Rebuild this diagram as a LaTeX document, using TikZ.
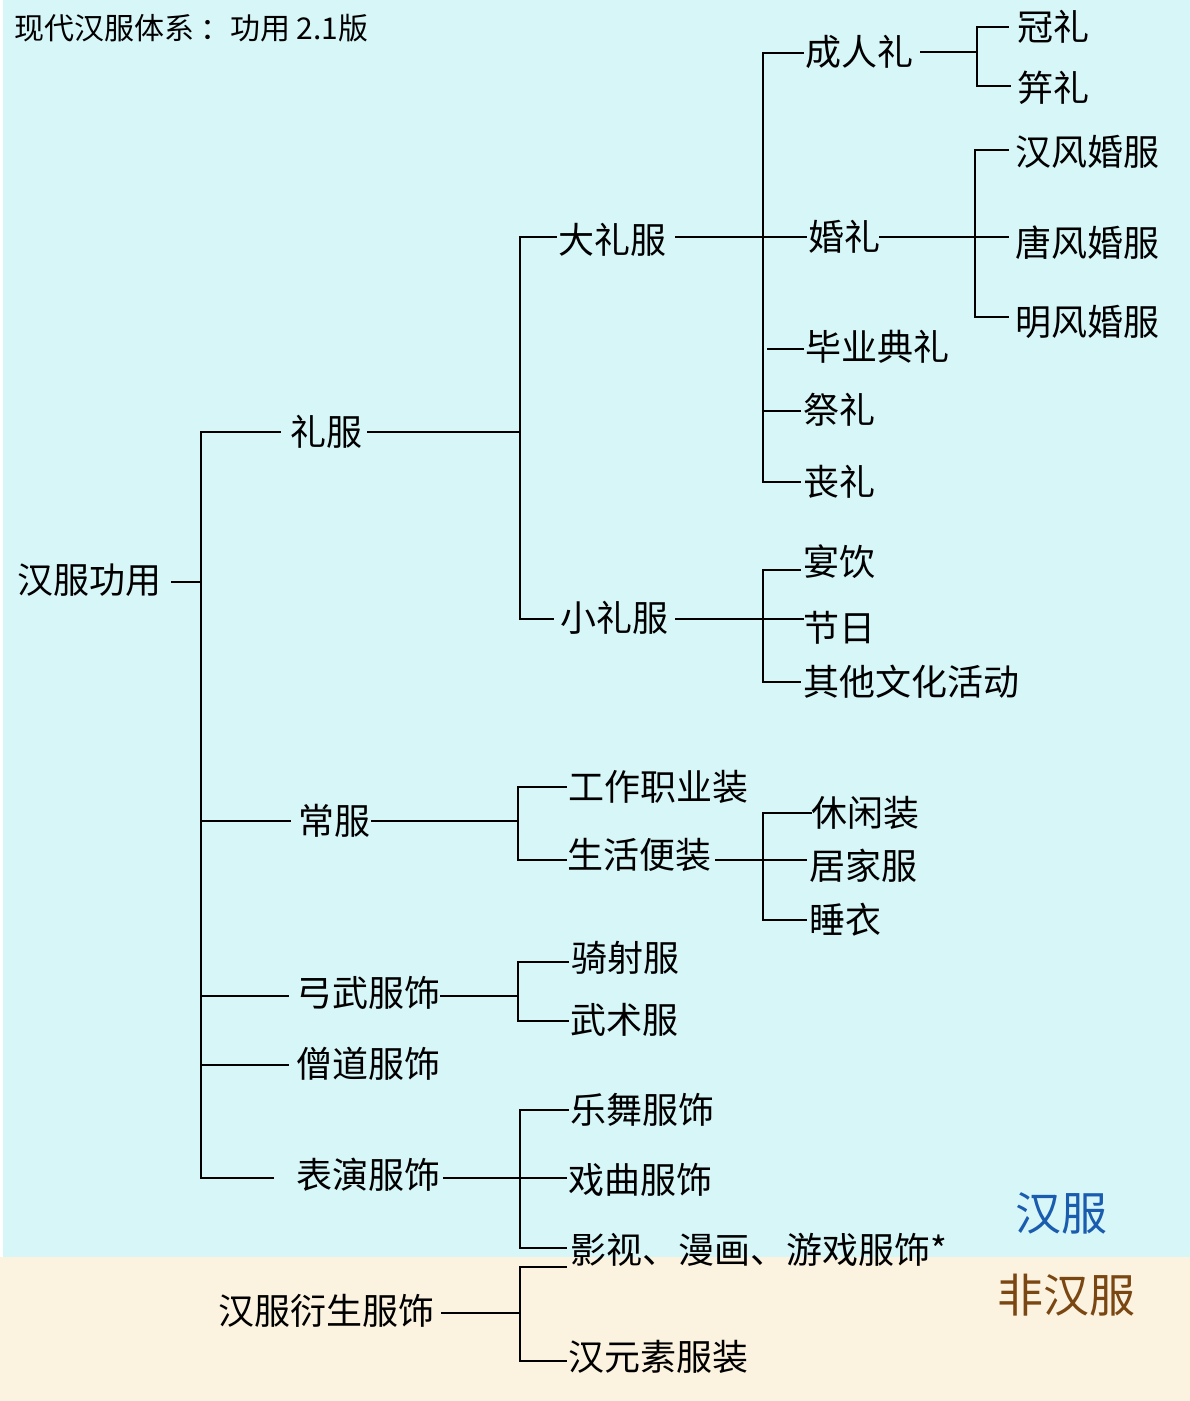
\documentclass[tikz,border=0pt]{standalone}
\usepackage{fontspec}
\setmainfont{Noto Sans CJK SC}
\definecolor{cyanbg}{HTML}{D7F6F8}
\definecolor{beigebg}{HTML}{FBF3E0}
\definecolor{hanblue}{HTML}{1A5CAE}
\definecolor{hanbrown}{HTML}{7A4712}
\tikzset{
  lbl/.style={anchor=west, inner sep=0pt, font=\fontsize{36}{40}\selectfont},
  ln/.style={line width=2pt, line cap=rect},
}
\begin{document}
\begin{tikzpicture}[x=1pt,y=-1pt]
\useasboundingbox (0,0) rectangle (1190,1401);
\fill[white] (0,0) rectangle (1190,1401);
\fill[cyanbg] (3,0) rectangle (1190,1257);
\fill[beigebg] (0,1257) rectangle (1190,1401);

% title
\node[anchor=west, inner sep=0pt, font=\fontsize{30}{34}\selectfont] (title) at (14,28) {现代汉服体系\hspace{6pt}：功用 2.1版};
\node[anchor=west, inner sep=0pt, font=\fontsize{46}{50}\selectfont, text=hanblue] (hanfu) at (1015,1213) {汉服};
\node[anchor=west, inner sep=0pt, font=\fontsize{46}{50}\selectfont, text=hanbrown] (feihanfu) at (997,1295) {非汉服};

% labels
\node[lbl] (root) at (17,580) {汉服功用};
\node[lbl] (lifu) at (290,432) {礼服};
\node[lbl] (dalifu) at (558,240) {大礼服};
\node[lbl] (chengren) at (805,52) {成人礼};
\node[lbl] (guan) at (1017,27) {冠礼};
\node[lbl] (ji) at (1017,88) {笄礼};
\node[lbl] (hunli) at (808,237) {婚礼};
\node[lbl] (hanfeng) at (1015,152) {汉风婚服};
\node[lbl] (tangfeng) at (1015,243) {唐风婚服};
\node[lbl] (mingfeng) at (1015,322) {明风婚服};
\node[lbl] (biye) at (805,347) {毕业典礼};
\node[lbl] (jili) at (803,410) {祭礼};
\node[lbl] (sangli) at (803,482) {丧礼};
\node[lbl] (xiaolifu) at (560,618) {小礼服};
\node[lbl] (yanyin) at (803,562) {宴饮};
\node[lbl] (jieri) at (803,628) {节日};
\node[lbl] (qita) at (803,682) {其他文化活动};
\node[lbl] (changfu) at (298,821) {常服};
\node[lbl] (gongzuo) at (568,787) {工作职业装};
\node[lbl] (shenghuo) at (567,855) {生活便装};
\node[lbl] (xiuxian) at (811,813) {休闲装};
\node[lbl] (jujia) at (809,866) {居家服};
\node[lbl] (shuiyi) at (809,920) {睡衣};
\node[lbl] (gongwu) at (296,993) {弓武服饰};
\node[lbl] (qishe) at (571,958) {骑射服};
\node[lbl] (wushu) at (570,1020) {武术服};
\node[lbl] (sengdao) at (296,1064) {僧道服饰};
\node[lbl] (biaoyan) at (296,1175) {表演服饰};
\node[lbl] (yuewu) at (570,1110) {乐舞服饰};
\node[lbl] (xiqu) at (568,1180) {戏曲服饰};
\node[lbl] (yingshi) at (570,1250) {影视、漫画、游戏服饰*};
\node[lbl] (yansheng) at (218,1311) {汉服衍生服饰};
\node[lbl] (hanyuansu) at (568,1357) {汉元素服装};

% junction coordinates
\coordinate (r0) at (201,582);
\coordinate (a1) at (201,432);
\coordinate (a2) at (201,821);
\coordinate (a3) at (201,996);
\coordinate (a4) at (201,1065);
\coordinate (a5) at (201,1178);

\coordinate (b0) at (520,432);
\coordinate (b1) at (520,237);
\coordinate (b2) at (520,619);

\coordinate (c0) at (763,237);
\coordinate (c1) at (763,53);
\coordinate (c2) at (763,349);
\coordinate (c3) at (763,411);
\coordinate (c4) at (763,482);

\coordinate (d0) at (977,52);
\coordinate (d1) at (977,27);
\coordinate (d2) at (977,86);

\coordinate (e0) at (975,237);
\coordinate (e1) at (975,150);
\coordinate (e2) at (975,317);

\coordinate (f0) at (763,619);
\coordinate (f1) at (763,570);
\coordinate (f2) at (763,682);

\coordinate (g0) at (518,821);
\coordinate (g1) at (518,787);
\coordinate (g2) at (518,860);

\coordinate (h0) at (763,860);
\coordinate (h1) at (763,813);
\coordinate (h2) at (763,920);

\coordinate (i0) at (518,996);
\coordinate (i1) at (518,962);
\coordinate (i2) at (518,1021);

\coordinate (k0) at (520,1178);
\coordinate (k1) at (520,1110);
\coordinate (k2) at (520,1248);

\coordinate (m0) at (520,1313);
\coordinate (m1) at (520,1267);
\coordinate (m2) at (520,1361);

\begin{scope}[ln]
% level 1
\draw (a1) -- (a5);
\draw[shorten <=11pt] (r0 -| root.east) -- (r0);
\draw[shorten >=10pt] (a1) -- (a1 -| lifu.west);
\draw[shorten >=8pt] (a2) -- (a2 -| changfu.west);
\draw[shorten >=8pt] (a3) -- (a3 -| gongwu.west);
\draw[shorten >=8pt] (a4) -- (a4 -| sengdao.west);
\draw[shorten >=23pt] (a5) -- (a5 -| biaoyan.west);

% 礼服
\draw[shorten <=6pt] (b0 -| lifu.east) -- (b0);
\draw (b1) -- (b2);
\draw[shorten >=2pt] (b1) -- (b1 -| dalifu.west);
\draw[shorten >=7pt] (b2) -- (b2 -| xiaolifu.west);

% 大礼服
\draw[shorten <=10pt, shorten >=2pt] (c0 -| dalifu.east) -- (c0 -| hunli.west);
\draw (c1) -- (c4);
\draw[shorten >=2pt] (c1) -- (c1 -| chengren.west);
\draw[shorten <=5pt, shorten >=2pt] (c2) -- (c2 -| biye.west);
\draw[shorten >=3pt] (c3) -- (c3 -| jili.west);
\draw[shorten >=3pt] (c4) -- (c4 -| sangli.west);

% 成人礼
\draw[shorten <=8pt] (d0 -| chengren.east) -- (d0);
\draw (d1) -- (d2);
\draw[shorten >=9pt] (d1) -- (d1 -| guan.west);
\draw[shorten >=7pt] (d2) -- (d2 -| ji.west);

% 婚礼
\draw[shorten >=7pt] (e0 -| hunli.east) -- (e0 -| tangfeng.west);
\draw (e1) -- (e2);
\draw[shorten >=7pt] (e1) -- (e1 -| hanfeng.west);
\draw[shorten >=7pt] (e2) -- (e2 -| mingfeng.west);

% 小礼服
\draw[shorten <=8pt] (f0 -| xiaolifu.east) -- (f0 -| jieri.west);
\draw (f1) -- (f2);
\draw[shorten >=3pt] (f1) -- (f1 -| yanyin.west);
\draw[shorten >=3pt] (f2) -- (f2 -| qita.west);

% 常服
\draw[shorten <=2pt] (g0 -| changfu.east) -- (g0);
\draw (g1) -- (g2);
\draw[shorten >=2pt] (g1) -- (g1 -| gongzuo.west);
\draw[shorten >=1pt] (g2) -- (g2 -| shenghuo.west);

% 生活便装
\draw[shorten <=5pt, shorten >=3pt] (h0 -| shenghuo.east) -- (h0 -| jujia.west);
\draw (h1) -- (h2);
\draw (h1) -- (h1 -| xiuxian.west);
\draw[shorten >=3pt] (h2) -- (h2 -| shuiyi.west);

% 弓武服饰
\draw[shorten <=1pt] (i0 -| gongwu.east) -- (i0);
\draw (i1) -- (i2);
\draw[shorten >=3pt] (i1) -- (i1 -| qishe.west);
\draw[shorten >=2pt] (i2) -- (i2 -| wushu.west);

% 表演服饰
\draw[shorten <=4pt, shorten >=2pt] (k0 -| biaoyan.east) -- (k0 -| xiqu.west);
\draw (k1) -- (k2);
\draw[shorten >=2pt] (k1) -- (k1 -| yuewu.west);
\draw[shorten >=4pt] (k2) -- (k2 -| yingshi.west);

% 汉服衍生服饰
\draw[shorten <=8pt] (m0 -| yansheng.east) -- (m0);
\draw (m1) -- (m2);
\draw[shorten >=4pt] (m1) -- (m1 -| yingshi.west);
\draw[shorten >=2pt] (m2) -- (m2 -| hanyuansu.west);
\end{scope}
\end{tikzpicture}
\end{document}
